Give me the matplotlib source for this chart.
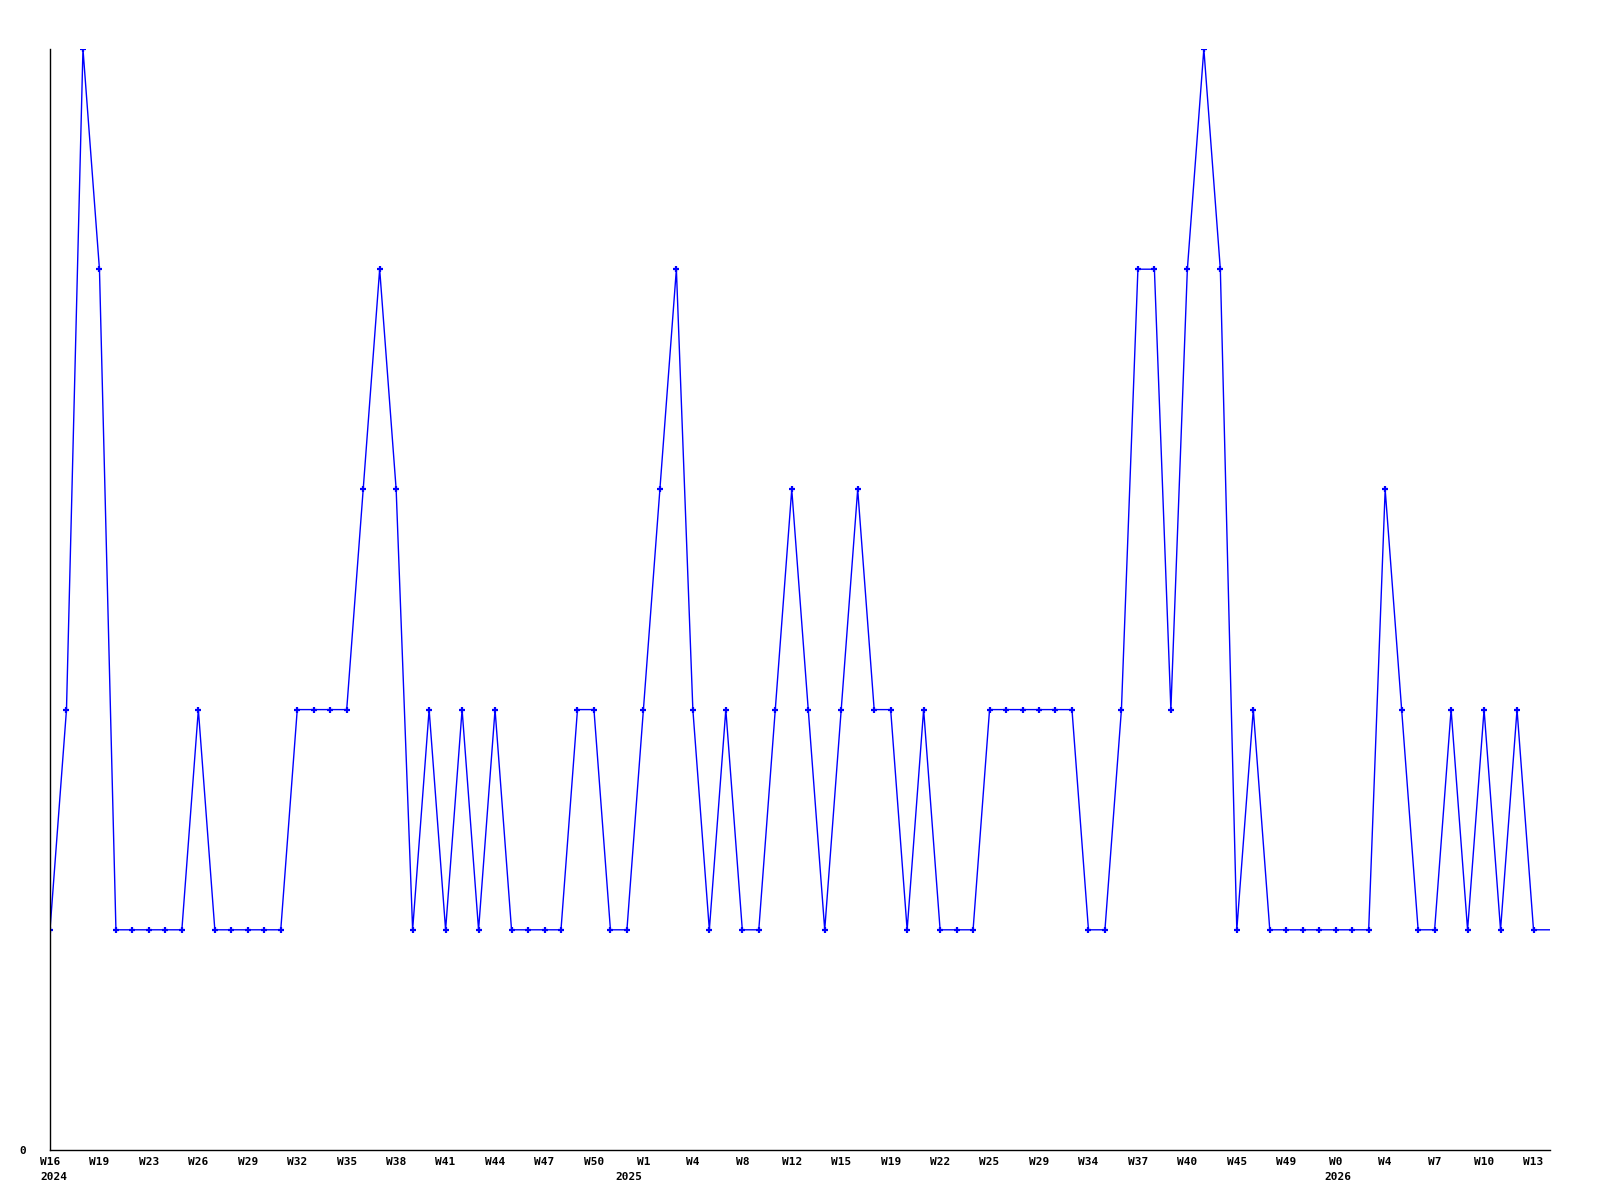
import matplotlib
matplotlib.use("Agg")
import matplotlib.pyplot as plt
import matplotlib.transforms as mtransforms

# weekly counts, one per point (last one is the open week, drawn without marker)
values = [1, 2, 5, 4, 1, 1, 1, 1, 1, 2, 1, 1, 1, 1, 1, 2, 2, 2, 2, 3,
          4, 3, 1, 2, 1, 2, 1, 2, 1, 1, 1, 1, 2, 2, 1, 1, 2, 3, 4, 2,
          1, 2, 1, 1, 2, 3, 2, 1, 2, 3, 2, 2, 1, 2, 1, 1, 1, 2, 2, 2,
          2, 2, 2, 1, 1, 2, 4, 4, 2, 4, 5, 4, 1, 2, 1, 1, 1, 1, 1, 1,
          1, 3, 2, 1, 1, 2, 1, 2, 1, 2, 1, 1]

week_labels = ["W16", "W19", "W23", "W26", "W29", "W32", "W35", "W38", "W41",
               "W44", "W47", "W50", "W1", "W4", "W8", "W12", "W15", "W19",
               "W22", "W25", "W29", "W34", "W37", "W40", "W45", "W49", "W0",
               "W4", "W7", "W10", "W13"]
label_step = 3

year_labels = ["2024", "2025", "2026"]
year_index = [0, 36, 78]
year_shift_px = [-10, -28, -11]

fig = plt.figure(figsize=(16, 12), dpi=100)
ax = fig.add_axes([50 / 1600, 1 - 1150 / 1200, 1500 / 1600, 1101 / 1200])

x = list(range(len(values)))
ax.plot(x, values, color="#0000ff", lw=1.0, marker="+", ms=4, mew=1.6,
        markevery=list(range(len(values) - 1)))

ax.set_xlim(0, len(values) - 1)
ax.set_ylim(0, 5)

for s in ("top", "right"):
    ax.spines[s].set_visible(False)
for s in ("left", "bottom"):
    ax.spines[s].set_color("black")
    ax.spines[s].set_linewidth(1.0)

font = dict(family="DejaVu Sans Mono", weight="bold", size=8)

ax.set_xticks(list(range(0, label_step * len(week_labels), label_step)))
ax.set_xticklabels(week_labels, **font)
ax.tick_params(axis="x", length=0, pad=5)

ax.set_yticks([0])
ax.set_yticklabels(["0"], **font)
ax.tick_params(axis="y", length=0, pad=17)

trans = mtransforms.blended_transform_factory(ax.transData, ax.transAxes)
for lab, i, dx in zip(year_labels, year_index, year_shift_px):
    t = mtransforms.offset_copy(trans, fig=fig, x=dx, y=-27, units="dots")
    ax.text(i, 0, lab, transform=t, ha="left", va="center", **font)

fig.savefig("out.png", dpi=100)
